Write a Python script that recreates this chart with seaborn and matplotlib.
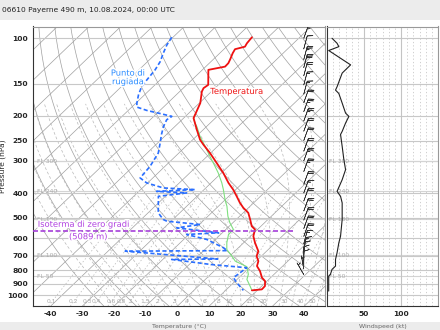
import numpy as np
import pandas as pd
import matplotlib
matplotlib.use("Agg")
import matplotlib.pyplot as plt
import matplotlib.patheffects as pe
from matplotlib.patches import Rectangle
import seaborn as sns

TITLE = "06610 Payerne 490 m, 10.08.2024, 00:00 UTC"

# ---- sounding data (hPa, degC) ----
temp_p = [99.1, 104.6, 107.8, 110.3, 114.4, 120.7, 125.0, 128.9, 132.7, 151.8, 156.3, 161.2,
          178.7, 198.4, 204.3, 213.7, 226.9, 248.1, 259.4, 279.4, 305.5, 334.2, 365.3, 387.9,
          411.8, 436.9, 456.6, 477.5, 507.0, 538.3, 554.4, 588.6, 624.5, 673.1, 703.8, 735.9,
          769.5, 804.7, 853.8, 880.1, 920.3, 947.8, 956.3]
temp_t = [-65.1, -64.7, -64.2, -66.5, -65.9, -64.7, -64.0, -63.9, -68.1, -63.2, -63.6, -63.0,
          -59.7, -57.5, -56.9, -54.8, -52.0, -47.7, -45.0, -40.2, -34.8, -29.4, -24.5, -20.8,
          -17.5, -14.3, -11.6, -8.4, -5.6, -2.9, -0.8, 0.9, 3.6, 7.4, 8.5, 10.7,
          11.9, 14.5, 17.3, 19.4, 21.0, 21.1, 18.3]

wet_p = [198.4, 204.3, 213.7, 220.3, 240.8, 263.4, 288.0, 314.9, 334.2, 365.3, 387.9, 424.1,
         450.2, 492.4, 522.3, 554.4, 579.7, 624.5, 663.0, 703.8, 735.9, 773.6, 828.7, 866.8,
         920.3, 956.3]
wet_t = [-57.5, -56.9, -54.8, -53.1, -48.8, -43.9, -39.1, -34.2, -31.0, -26.6, -23.9, -20.1,
         -17.3, -13.7, -10.9, -7.6, -7.5, -5.3, -3.1, 0.7, 3.4, 8.9, 11.9, 13.1,
         16.3, 18.3]

dew_p = [99.1, 106.2, 114.4, 123.3, 132.7, 145.1, 154.4, 166.0, 178.7, 185.2, 190.9, 195.5,
         201.3, 207.5, 220.3, 236.7, 255.5, 279.4, 314.9, 349.4, 365.3, 382.1, 387.9, 394.0,
         399.5, 411.8, 477.5, 507.0, 514.8, 530.3, 546.3, 571.0, 579.7, 606.2, 634.0, 652.9,
         670.0, 673.1, 722.0, 724.9, 758.0, 780.9, 853.8, 892.9, 956.3]
dew_t = [-90.4, -89.4, -87.8, -86.0, -84.9, -84.2, -83.6, -81.9, -79.7, -78.4, -74.1, -69.6,
         -64.3, -64.8, -63.6, -61.6, -59.2, -56.5, -54.7, -54.0, -50.3, -43.4, -32.8, -44.4,
         -34.4, -42.2, -36.8, -33.0, -31.3, -19.7, -26.0, -11.2, -20.7, -12.7, -7.9, -4.7,
         -2.6, -34.6, -2.8, -17.2, -3.4, 9.2, 8.3, 11.0, 15.6]

wind_p = [100.0, 104.6, 107.8, 111.6, 126.9, 136.6, 154.4, 159.1, 164.0, 178.7, 195.5, 201.3,
          213.7, 230.3, 236.7, 263.4, 296.8, 324.4, 355.0, 394.0, 411.8, 436.9, 507.0, 588.6,
          624.5, 683.0, 724.9, 769.5, 792.6, 828.7, 841.5, 892.9, 962.3]
wind_kt = [6.8, 13.6, 16.0, 2.3, 31.9, 20.5, 13.6, 11.5, 16.0, 20.5, 25.1, 29.6,
           25.1, 20.5, 18.3, 20.5, 22.8, 25.1, 20.5, 13.6, 18.3, 20.5, 20.5, 18.3,
           16.0, 13.6, 11.5, 11.5, 6.8, 4.6, 2.3, 2.3, 2.3]

barb_p = [100, 110, 121, 130, 140, 152, 165, 178, 193, 210, 230, 250, 275, 300, 330,
          370, 400, 430, 470, 510, 550, 590, 630, 670, 700, 730, 760, 790, 830, 870]
barb_kt = [7, 10, 25, 30, 20, 14, 14, 20, 25, 27, 20, 19, 21, 23, 24,
           18, 15, 20, 20, 20, 19, 18, 16, 14, 12, 11, 11, 7, 4, 2]
barb_dir = [20, 15, 15, 15, 15, 15, 15, 20, 20, 20, 20, 20, 20, 20, 20,
            20, 20, 20, 20, 20, 20, 20, 15, 10, 5, 0, 0, 350, 330, 320]

p_ticks = [100, 150, 200, 250, 300, 400, 500, 600, 700, 800, 900, 1000]
t_ticks = [-40, -30, -20, -10, 0, 10, 20, 30, 40]
ws_ticks = [50, 100]
mix_ratios = [0.1, 0.2, 0.3, 0.4, 0.6, 0.8, 1, 1.5, 2, 3, 4, 6, 8, 10, 15, 20, 30, 40, 50]
mix_labels = ["0.1", "0.2", "0.3", "0.4", "0.6", "0.8", "1", "1.5", "2", "3", "4", "6",
              "8", "10", "15", "20", "30", "40", "50"]
fl_names = ["FL 300", "FL 240", "FL 180", "FL 100", "FL 50"]
fl_p = [300.9, 393.0, 506.0, 697.0, 843.0]
zero_p = 559.5
zero_label = "Isoterma di zero gradi"
zero_height = "(5089 m)"

# ---- skew-T geometry ----
P_BOT, P_TOP = 1100.0, 90.0
X_MIN, X_MAX = -45.6, 46.5
SKEW = (X_MAX - X_MIN) / np.log10(P_BOT / P_TOP)


def skx(t, p):
    return np.asarray(t, float) + SKEW * np.log10(P_BOT / np.asarray(p, float))


def moist_adiabat(t0, pres):
    Rd, Cp, Lv, eps = 287.04, 1005.7, 2.501e6, 0.622

    def f(Tk, pk):
        es = 6.112 * np.exp(17.67 * (Tk - 273.15) / (Tk - 29.65))
        rs = eps * es / (pk - es)
        return (Rd * Tk + Lv * rs) / (Cp + Lv * Lv * rs * eps / (Rd * Tk * Tk)) / pk

    T = t0 + 273.15
    out = [T]
    for i in range(1, len(pres)):
        p0, p1 = pres[i - 1], pres[i]
        n = 4
        dp = (p1 - p0) / n
        pp = p0
        for _ in range(n):
            k1 = f(T, pp)
            k2 = f(T + 0.5 * dp * k1, pp + 0.5 * dp)
            k3 = f(T + 0.5 * dp * k2, pp + 0.5 * dp)
            k4 = f(T + dp * k3, pp + dp)
            T = T + dp / 6 * (k1 + 2 * k2 + 2 * k3 + k4)
            pp += dp
        out.append(T)
    return np.array(out) - 273.15


sns.set_theme(style="white")
plt.rcParams['font.family'] = ['DejaVu Sans']

fig = plt.figure(figsize=(4.4, 3.3), dpi=100)
fig.patch.set_facecolor("white")
fig.patches.append(Rectangle((0, 1 - 20 / 330), 1, 20 / 330, transform=fig.transFigure,
                             facecolor="#ececec", edgecolor="none", zorder=-10))
fig.patches.append(Rectangle((0, 0), 1, 8 / 330, transform=fig.transFigure,
                             facecolor="#ececec", edgecolor="none", zorder=-10))
fig.text(2 / 440, 1 - 10 / 330, TITLE, fontsize=5.4, va="center", ha="left", color="#222222")

ax = fig.add_axes([33 / 440, 1 - 306 / 330, 292 / 440, 279.5 / 330])
axw = fig.add_axes([327 / 440, 1 - 306 / 330, 111 / 440, 279.5 / 330], sharey=ax)

pgrid = np.geomspace(P_BOT, P_TOP, 120)
gray = "#a0a0a0"

# isotherms
for t in range(-160, 60, 10):
    ax.plot(skx(np.full_like(pgrid, t), pgrid), pgrid, color=gray, lw=0.5, zorder=1)
# dry adiabats
for th in range(-30, 240, 10):
    tt = (th + 273.15) * (pgrid / 1000.0) ** 0.2857 - 273.15
    ax.plot(skx(tt, pgrid), pgrid, color=gray, lw=0.5, zorder=1)
# moist adiabats
pm = np.geomspace(P_BOT, 180, 80)
for t0 in range(-20, 45, 4):
    tt = moist_adiabat(t0, pm)
    ax.plot(skx(tt, pm), pm, color="#b8b8b8", lw=0.5, ls=(0, (4, 3)), zorder=1)
# mixing ratio lines
pw = np.geomspace(P_BOT, 400, 40)
for w, lab in zip(mix_ratios, mix_labels):
    e = w * pw / (622.0 + w)
    le = np.log(e / 6.112)
    td = 243.5 * le / (17.67 - le)
    ax.plot(skx(td, pw), pw, color="#b8b8b8", lw=0.5, ls=(0, (2, 3)), zorder=1)
    e0 = w * 1060 / (622.0 + w)
    l0 = np.log(e0 / 6.112)
    ax.text(skx(243.5 * l0 / (17.67 - l0), 1060), 1060, lab, fontsize=4.3, color="#aaaaaa",
            ha="center", va="center", zorder=2)

# isobars & flight levels
for a in (ax, axw):
    for p in p_ticks:
        a.axhline(p, color="#c8c8c8", lw=0.8, zorder=1)
    for p in fl_p:
        a.axhline(p, color="#d4d4d4", lw=0.8, zorder=1)
for a, x0 in ((ax, X_MIN + 1.3), (axw, 2.5)):
    for name, p in zip(fl_names, fl_p):
        a.text(x0, p, name, fontsize=4.3, color="#aaaaaa", ha="left", va="center", zorder=2)

# profiles
dfT = pd.DataFrame({"x": skx(temp_t, temp_p), "p": temp_p})
dfW = pd.DataFrame({"x": skx(wet_t, wet_p), "p": wet_p})
dfD = pd.DataFrame({"x": skx(dew_t, dew_p), "p": dew_p})
sns.lineplot(data=dfW, x="x", y="p", sort=False, estimator=None, color="#7fe07f", lw=0.8,
             ax=ax, zorder=4)
sns.lineplot(data=dfT, x="x", y="p", sort=False, estimator=None, color="#ee1111", lw=1.3,
             ax=ax, zorder=5)
sns.lineplot(data=dfD, x="x", y="p", sort=False, estimator=None, color="#2a6fff", lw=1.2,
             ax=ax, zorder=5, linestyle=(0, (2.5, 1.5)))

# zero isotherm
ax.plot([X_MIN, skx(0, zero_p) + 11.5], [zero_p, zero_p], color="#a63fd9", lw=1.2,
        ls=(0, (3, 1.5)), zorder=6)
halo = [pe.withStroke(linewidth=2.2, foreground="white")]
ax.text(X_MIN + 1.5, zero_p * 0.985, zero_label, fontsize=6, color="#b040e0", ha="left",
        va="bottom", zorder=7, path_effects=halo)
ax.text(-28.2, zero_p * 1.015, zero_height, fontsize=6, color="#b040e0", ha="center",
        va="top", zorder=7, path_effects=halo)
ax.text(10.3, 161, "Temperatura", fontsize=6, color="#ee1111", ha="left", va="center",
        zorder=7, path_effects=halo)
ax.text(-15.6, 142, "Punto di\nrugiada", fontsize=6, color="#2a8cff", ha="center",
        va="center", zorder=7, path_effects=halo, linespacing=0.95)

# wind barbs
d = np.deg2rad(barb_dir)
u = -np.asarray(barb_kt) * np.sin(d)
v = -np.asarray(barb_kt) * np.cos(d)
ax.barbs(np.full(len(barb_p), 39.8), barb_p, u, v, length=4.4, lw=0.45, color="#333333",
         zorder=6, sizes=dict(emptybarb=0.0))

ax.set_yscale("log")
ax.set_ylim(P_BOT, P_TOP)
ax.set_xlim(X_MIN, X_MAX)
ax.set_yticks(p_ticks)
ax.set_yticklabels([str(p) for p in p_ticks])
ax.yaxis.set_minor_locator(matplotlib.ticker.NullLocator())
ax.set_xticks(t_ticks)
ax.set_xticklabels([str(t) for t in t_ticks])
ax.tick_params(axis="both", labelsize=5.4, length=0, pad=3.5)
for lab in ax.get_xticklabels() + ax.get_yticklabels():
    lab.set_fontweight("bold")
ax.set_ylabel("Pressure (hPa)", fontsize=5.4)
ax.yaxis.set_label_coords(-27 / 292, 0.5)
ax.set_xlabel("Temperature (\u00b0C)", fontsize=4.5, color="#666666", labelpad=5)

sns.lineplot(x=wind_kt, y=wind_p, sort=False, estimator=None, color="#222222", lw=0.8,
             ax=axw, zorder=5)
for k in np.arange(0, 150, 50 / 6):
    axw.axvline(k, color="#c8c8c8", lw=0.6, ls=(0, (1.5, 2.5)), zorder=1)
for k in ws_ticks:
    axw.axvline(k, color="#c4c4c4", lw=0.8, zorder=1)
axw.set_xlim(0, 150)
axw.set_xticks(ws_ticks)
axw.set_xticklabels([str(k) for k in ws_ticks])
axw.tick_params(axis="x", labelsize=5.4, length=0, pad=3.5)
axw.tick_params(axis="y", left=False, labelleft=False)
for lab in axw.get_xticklabels():
    lab.set_fontweight("bold")
axw.set_xlabel("Windspeed (kt)", fontsize=4.5, color="#666666", labelpad=5)
axw.set_ylabel("")

for a in (ax, axw):
    for s in a.spines.values():
        s.set_color("#999999")
        s.set_linewidth(0.8)
    a.spines["left"].set_color("#333333")
    a.spines["bottom"].set_color("#333333")
    a.set_facecolor("white")

fig.savefig("out.png", dpi=100, facecolor=fig.get_facecolor())
